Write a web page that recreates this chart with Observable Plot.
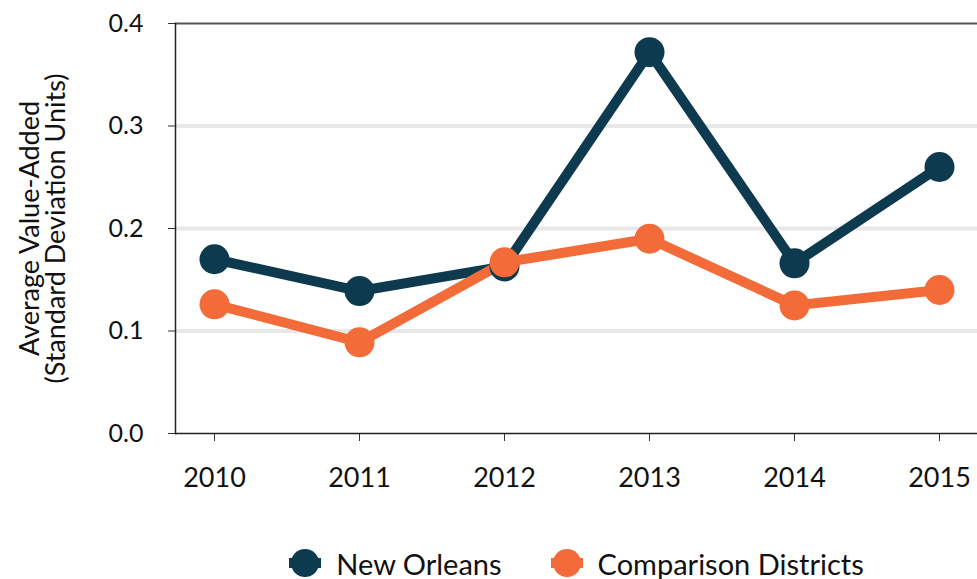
<!DOCTYPE html>
<html><head><meta charset="utf-8">
<script src="https://cdn.jsdelivr.net/npm/d3@7"></script>
<script src="https://cdn.jsdelivr.net/npm/@observablehq/plot@0.6"></script>
<style>
body{margin:0;background:#fff;font-family:Lato,"Noto Sans",sans-serif;}
#legend{display:flex;justify-content:center;align-items:center;height:50px;margin-top:30px;font-size:29px;color:#111;margin-left:175px}
.item{display:flex;align-items:center;margin:0 24px}
.item svg{margin-right:14px}
</style></head>
<body><div id="chart"></div><div id="legend"></div>
<script>
const years = ["2010","2011","2012","2013","2014","2015"];
const newOrleans = [0.170, 0.139, 0.163, 0.372, 0.166, 0.260];
const comparison = [0.126, 0.089, 0.167, 0.190, 0.125, 0.140];
const seriesNames = ["New Orleans","Comparison Districts"];
const colors = ["#0e3a4f","#f26b38"];
const yTicks = [0, 0.1, 0.2, 0.3, 0.4];
const gridTicks = [0.1, 0.2, 0.3];

const data = [];
[newOrleans, comparison].forEach((vals, s) => years.forEach((yr, i) => data.push({year: yr, value: vals[i], series: seriesNames[s]})));

const chart = Plot.plot({
  width: 977, height: 508,
  marginLeft: 175, marginRight: 0, marginTop: 23, marginBottom: 75,
  style: {fontFamily: "Lato, 'Noto Sans', sans-serif", fontSize: "25px", color: "#111"},
  x: {type: "point", domain: years, padding: 0.25, label: null},
  y: {domain: [0, 0.4], label: null},
  color: {domain: seriesNames, range: colors},
  marks: [
    Plot.ruleY(gridTicks, {stroke: "#e8e8e8", strokeWidth: 4}),
    Plot.ruleY([0.4], {stroke: "#555", strokeWidth: 2}),
    Plot.axisY({ticks: yTicks, tickFormat: d3.format(".1f"), tickSize: 7, tickPadding: 25, label: null, stroke: "#333", fontSize: 25}),
    Plot.axisX({tickSize: 8, tickPadding: 26, label: null, stroke: "#333", fontSize: 27}),
    Plot.ruleY([0], {stroke: "#222", strokeWidth: 1.5}),
    Plot.frame({anchor: "left", stroke: "#222", strokeWidth: 1.5}),
    Plot.line(data, {x: "year", y: "value", z: "series", stroke: "series", strokeWidth: 10, strokeLinejoin: "round"}),
    Plot.dot(data, {x: "year", y: "value", fill: "series", r: 15, stroke: "none"}),
    Plot.text(["Average Value-Added\n(Standard Deviation Units)"], {frameAnchor: "left", dx: -132, rotate: -90, fontSize: 27, lineHeight: 0.98, fill: "#111", lineAnchor: "middle", textAnchor: "middle"})
  ]
});
document.getElementById("chart").append(chart);

const legend = document.getElementById("legend");
seriesNames.forEach((name, i) => {
  const it = document.createElement("div");
  it.className = "item";
  it.innerHTML = `<svg width="34" height="30"><line x1="1" x2="33" y1="15" y2="15" stroke="${colors[i]}" stroke-width="10"/><circle cx="17" cy="15" r="14" fill="${colors[i]}"/></svg><span>${name}</span>`;
  legend.append(it);
});
</script></body></html>
